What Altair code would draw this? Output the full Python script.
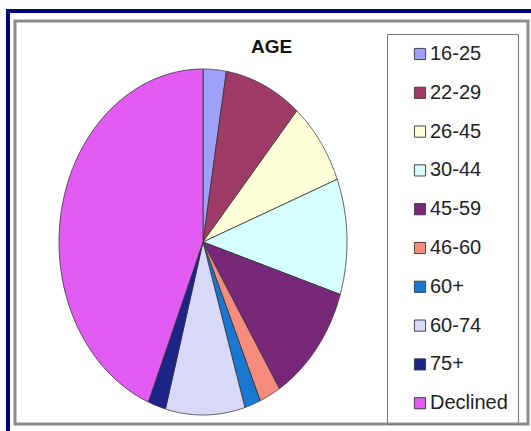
import altair as alt
import pandas as pd

# Age groups, their share of respondents (%) and slice colours
groups = ["16-25", "22-29", "26-45", "30-44", "45-59",
          "46-60", "60+", "60-74", "75+", "Declined"]
shares = [2.6, 8.7, 7.8, 10.8, 11.2, 2.4, 1.8, 8.9, 2.0, 43.8]
colors = ["#a0a0f8", "#9e3c66", "#ffffd8", "#d6ffff", "#782878",
          "#f58c7e", "#1878d2", "#d8d8fa", "#1c2488", "#e25cf4"]

slices = pd.DataFrame({"group": groups, "share": shares,
                       "ord": list(range(len(groups)))})

N = 90  # points along each slice's outer edge

# Each slice is a filled polygon: centre -> arc points -> centre.
# The x and y scales have different pixel extents, so the pie is an ellipse.
pie = (
    alt.Chart(slices)
    .transform_joinaggregate(total="sum(share)")
    .transform_window(cum="sum(share)", sort=[alt.SortField("ord", order="ascending")])
    .transform_calculate(
        a1="2*PI*datum.cum/datum.total",
        a0="2*PI*(datum.cum-datum.share)/datum.total",
        k=f"sequence(-1, {N + 2})",
    )
    .transform_flatten(["k"])
    .transform_calculate(
        t=f"clamp(datum.k, 0, {N})/{N}",
        ang="datum.a0+(datum.a1-datum.a0)*datum.t",
        onarc=f"datum.k>=0 && datum.k<={N}",
        px="datum.onarc ? sin(datum.ang) : 0",
        py="datum.onarc ? cos(datum.ang) : 0",
    )
    .mark_line(filled=True, stroke="#333333", strokeWidth=0.8, strokeJoin="round")
    .encode(
        x=alt.X("px:Q", axis=None,
                scale=alt.Scale(domain=[-1.3056, 2.257], nice=False, zero=False)),
        y=alt.Y("py:Q", axis=None,
                scale=alt.Scale(domain=[-1.052, 1.2775], nice=False, zero=False)),
        color=alt.Color(
            "group:N",
            scale=alt.Scale(domain=groups, range=colors),
            legend=alt.Legend(
                title=None, orient="none", legendX=372, legendY=13,
                symbolType="square", symbolSize=125,
                symbolStrokeColor="#444444", symbolStrokeWidth=1,
                symbolOffset=13, labelOffset=0,
                labelFont="Liberation Sans", labelFontSize=20,
                labelColor="#222222", rowPadding=18.8,
                padding=10, strokeColor="#777777",
            ),
        ),
        order=alt.Order("k:Q"),
    )
)

# Navy outer border along the top and left edges
one = alt.Data(values=[{}])
border_top = alt.Chart(one).mark_rule(color="#000088", strokeWidth=4).encode(
    x=alt.value(-9), x2=alt.value(520), y=alt.value(-10))
border_left = alt.Chart(one).mark_rule(color="#000088", strokeWidth=4).encode(
    x=alt.value(-7), y=alt.value(-12), y2=alt.value(415))

chart = (
    alt.layer(pie, border_top, border_left)
    .properties(
        width=513, height=403,
        padding={"left": 15, "top": 21, "right": 3, "bottom": 7},
        autosize=alt.AutoSizeParams(type="none"),
        background="white",
        title=alt.Title("AGE", anchor="middle", font="Liberation Sans",
                        fontSize=19, fontWeight="bold", color="#111111",
                        baseline="top", dy=54),
    )
    .configure_view(stroke="#8c8c8c", strokeWidth=3)
)

chart.save("out.html", embed_options={"renderer": "svg", "actions": False})
